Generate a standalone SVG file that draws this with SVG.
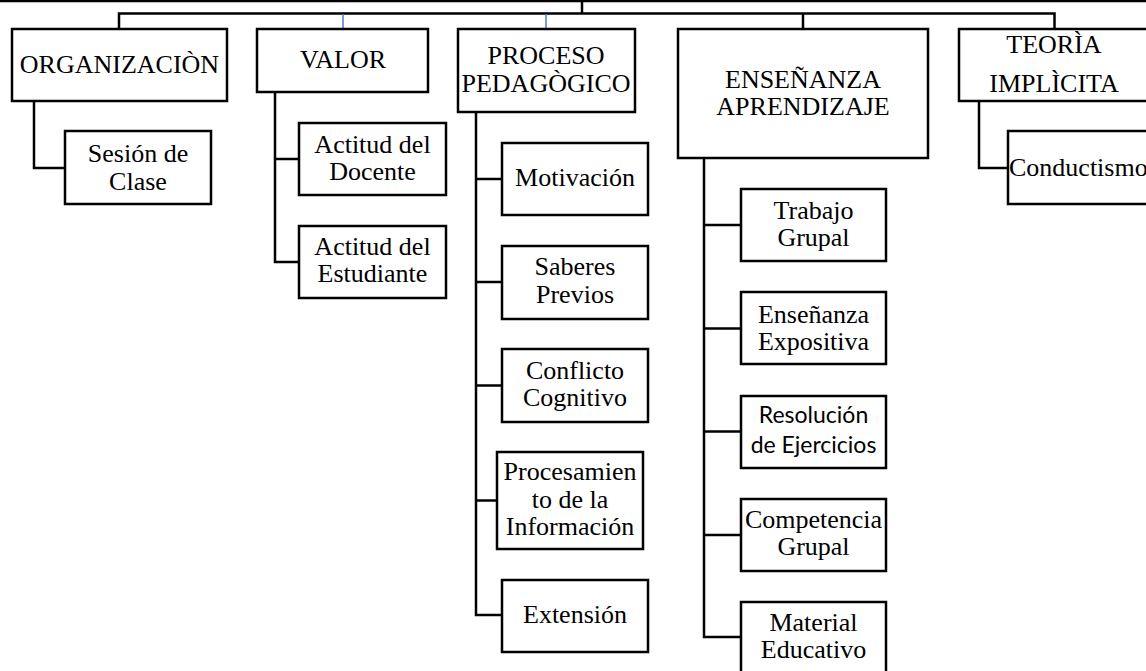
<svg xmlns="http://www.w3.org/2000/svg" width="1146" height="671" viewBox="0 0 1146 671">
<style>
.box{fill:#fff;stroke:#000;stroke-width:2.5}
.ln{fill:none;stroke:#000;stroke-width:2.5}
.blue{fill:none;stroke:#4a7ebb;stroke-width:1.5}
text{font-family:"Liberation Serif","Times New Roman",serif;font-size:26px;fill:#000;text-anchor:middle}
.sans{font-family:Lato,"Open Sans",sans-serif;font-size:23px}
</style>
<rect width="1146" height="671" fill="#fff"/>
<g id="connectors">
<line class="ln" x1="0" y1="1" x2="1146" y2="1" stroke="#222"/>
<line class="ln" x1="582" y1="1" x2="582" y2="13.5"/>
<polyline class="ln" points="119,29 119,13.5 1054.5,13.5 1054.5,29"/>
<line class="blue" x1="343" y1="14" x2="343" y2="29"/>
<line class="blue" x1="546" y1="14" x2="546" y2="29"/>
<line class="ln" x1="803" y1="13.5" x2="803" y2="29"/>
<polyline class="ln" points="34,101 34,168 65,168"/>
<polyline class="ln" points="275,92 275,262 299,262"/>
<line class="ln" x1="275" y1="159" x2="299" y2="159"/>
<polyline class="ln" points="476,112 476,615 502,615"/>
<line class="ln" x1="476" y1="179" x2="502" y2="179"/>
<line class="ln" x1="476" y1="282" x2="502" y2="282"/>
<line class="ln" x1="476" y1="385.5" x2="502" y2="385.5"/>
<line class="ln" x1="476" y1="500.5" x2="497" y2="500.5"/>
<polyline class="ln" points="704,158 704,637 741,637"/>
<line class="ln" x1="704" y1="225" x2="741" y2="225"/>
<line class="ln" x1="704" y1="328.5" x2="741" y2="328.5"/>
<line class="ln" x1="704" y1="431.5" x2="741" y2="431.5"/>
<line class="ln" x1="704" y1="535" x2="741" y2="535"/>
<polyline class="ln" points="979,101 979,168 1008,168"/>
</g>
<g id="organizacion"><rect class="box" x="12" y="29" width="215" height="72"/><text x="119.5" y="73">ORGANIZACIÒN</text></g>
<g id="sesion"><rect class="box" x="65" y="131" width="146" height="73"/><text x="138" y="162">Sesión de</text><text x="138" y="190">Clase</text></g>
<g id="valor"><rect class="box" x="257" y="29" width="171" height="63"/><text x="343" y="68">VALOR</text></g>
<g id="actitud-docente"><rect class="box" x="299" y="123" width="147" height="72"/><text x="372.5" y="153">Actitud del</text><text x="372.5" y="180">Docente</text></g>
<g id="actitud-estudiante"><rect class="box" x="299" y="226" width="147" height="72"/><text x="372.5" y="255">Actitud del</text><text x="372.5" y="282">Estudiante</text></g>
<g id="proceso"><rect class="box" x="458" y="29" width="177" height="83"/><text x="546" y="64">PROCESO</text><text x="546" y="92">PEDAGÒGICO</text></g>
<g id="motivacion"><rect class="box" x="502" y="143" width="146" height="72"/><text x="575" y="186">Motivación</text></g>
<g id="saberes"><rect class="box" x="502" y="246" width="146" height="73"/><text x="575" y="275">Saberes</text><text x="575" y="303">Previos</text></g>
<g id="conflicto"><rect class="box" x="502" y="349" width="146" height="73"/><text x="575" y="379">Conflicto</text><text x="575" y="406">Cognitivo</text></g>
<g id="procesamiento"><rect class="box" x="497" y="452" width="146" height="97"/><text x="570" y="480">Procesamien</text><text x="570" y="508">to de la</text><text x="570" y="535">Información</text></g>
<g id="extension"><rect class="box" x="502" y="580" width="146" height="72"/><text x="575" y="623">Extensión</text></g>
<g id="ensenanza"><rect class="box" x="678" y="29" width="250" height="129"/><text x="803" y="88">ENSEÑANZA</text><text x="803" y="115">APRENDIZAJE</text></g>
<g id="trabajo"><rect class="box" x="741" y="189" width="145" height="72"/><text x="813.5" y="219">Trabajo</text><text x="813.5" y="246">Grupal</text></g>
<g id="expositiva"><rect class="box" x="741" y="292" width="145" height="72"/><text x="813.5" y="323">Enseñanza</text><text x="813.5" y="350">Expositiva</text></g>
<g id="resolucion"><rect class="box" x="741" y="396" width="145" height="72"/><text class="sans" x="813.5" y="423">Resolución</text><text class="sans" x="813.5" y="453">de Ejercicios</text></g>
<g id="competencia"><rect class="box" x="741" y="499" width="145" height="72"/><text x="813.5" y="528">Competencia</text><text x="813.5" y="555">Grupal</text></g>
<g id="material"><rect class="box" x="741" y="602" width="145" height="80"/><text x="813.5" y="631">Material</text><text x="813.5" y="658">Educativo</text></g>
<g id="teoria"><rect class="box" x="959" y="29" width="200" height="72"/><text x="1054" y="53">TEORÌA</text><text x="1054" y="92">IMPLÌCITA</text></g>
<g id="conductismo"><rect class="box" x="1008" y="131" width="150" height="73"/><text x="1009" y="176" style="text-anchor:start">Conductismo</text></g>
</svg>
